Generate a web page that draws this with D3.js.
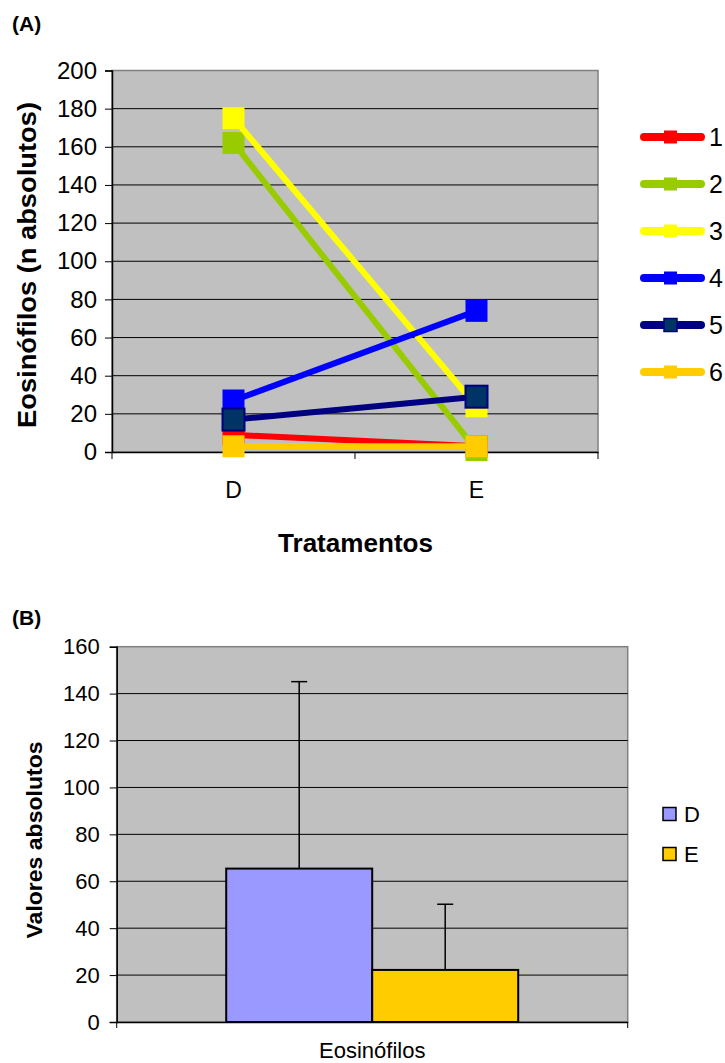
<!DOCTYPE html>
<html>
<head>
<meta charset="utf-8">
<script src="https://cdn.jsdelivr.net/npm/d3@7"></script>
<style>
  body { margin: 0; background: #fff; }
  text { font-family: "Liberation Sans", Arial, sans-serif; fill: #000; }
</style>
</head>
<body>
<div id="chart"></div>
<script>
// panel A data
var tratamentos = ["D", "E"]
var series = ["1", "2", "3", "4", "5", "6"]
var valores = [
  [9, 3],
  [162, 1],
  [175, 24],
  [27, 74],
  [17, 29],
  [3, 3]
]
var lineColors = ["#FF0000", "#99CC00", "#FFFF00", "#0000FF", "#000080", "#FFCC00"]
var markColors = ["#FF0000", "#99CC00", "#FFFF00", "#0000FF", "#003366", "#FFCC00"]
var yTicksA = [0, 20, 40, 60, 80, 100, 120, 140, 160, 180, 200]

// panel B data
var categoriaB = ["Eosinófilos"]
var gruposB = ["D", "E"]
var mediasB = [65.4, 22.2]
var errosB = [79.7, 28.0]
var barColors = ["#9999FF", "#FFCC00"]
var yTicksB = [0, 20, 40, 60, 80, 100, 120, 140, 160]

var width = 725
var height = 1063

var svg = d3.select('#chart').append('svg')
  .attr('width', width).attr('height', height)

// ---------- panel A ----------
var pA = {left: 112, right: 598, top: 70.5, bottom: 452}

var xA = d3.scaleBand().domain(tratamentos).range([pA.left, pA.right])
var yA = d3.scaleLinear().domain([0, 200]).range([pA.bottom, pA.top])

var gA = svg.append('g')

gA.append('rect')
  .attr('x', pA.left).attr('y', pA.top)
  .attr('width', pA.right - pA.left).attr('height', pA.bottom - pA.top)
  .attr('fill', '#C0C0C0').attr('stroke', '#808080').attr('stroke-width', 1.5)

gA.append('g')
  .selectAll('line')
  .data(yTicksA.slice(1, -1))
  .enter().append('line')
  .attr('x1', pA.left).attr('x2', pA.right)
  .attr('y1', function(d) { return yA(d) }).attr('y2', function(d) { return yA(d) })
  .attr('stroke', '#000').attr('stroke-width', 1)

var axisLeftA = gA.append('g')
  .attr('transform', 'translate(' + pA.left + ',0)')
  .call(d3.axisLeft(yA).tickValues(yTicksA).tickSize(7).tickPadding(8))
axisLeftA.selectAll('text').style('font-size', '24px')

var axisBottomA = gA.append('g')
  .attr('transform', 'translate(0,' + pA.bottom + ')')
  .call(d3.axisBottom(xA).tickSize(0).tickPadding(30))
axisBottomA.selectAll('text').style('font-size', '23px')
// boundary ticks
axisBottomA.selectAll('.bound')
  .data([pA.left, (pA.left + pA.right) / 2, pA.right])
  .enter().append('line')
  .attr('x1', function(d) { return d }).attr('x2', function(d) { return d })
  .attr('y1', 0).attr('y2', 7).attr('stroke', '#000')
gA.selectAll('.domain').attr('stroke', '#000').attr('stroke-width', 1.5)

var line = d3.line()
  .x(function(d, i) { return xA(tratamentos[i]) + xA.bandwidth() / 2 })
  .y(function(d) { return yA(d) })

series.forEach(function(s, k) {
  var g = gA.append('g')
  g.append('path')
    .datum(valores[k])
    .attr('d', line)
    .attr('fill', 'none')
    .attr('stroke', lineColors[k])
    .attr('stroke-width', 6)
  g.selectAll('rect')
    .data(valores[k])
    .enter().append('rect')
    .attr('x', function(d, i) { return xA(tratamentos[i]) + xA.bandwidth() / 2 - 11 })
    .attr('y', function(d) { return yA(d) - 11 })
    .attr('width', 22).attr('height', 22)
    .attr('fill', markColors[k])
    .attr('stroke', k === 4 ? '#000080' : 'none')
    .attr('stroke-width', 2)
})

// legend A
var legA = gA.append('g')
series.forEach(function(s, k) {
  var cy = 137 + k * 47
  legA.append('line')
    .attr('x1', 644).attr('x2', 701).attr('y1', cy).attr('y2', cy)
    .attr('stroke', lineColors[k]).attr('stroke-width', 8).attr('stroke-linecap', 'round')
  legA.append('rect')
    .attr('x', 664).attr('y', cy - 6.5).attr('width', 13).attr('height', 13)
    .attr('fill', markColors[k])
    .attr('stroke', k === 4 ? '#000080' : 'none').attr('stroke-width', 1.5)
  legA.append('text')
    .attr('x', 709).attr('y', cy + 9)
    .style('font-size', '25px')
    .text(s)
})

gA.append('text')
  .attr('x', 12).attr('y', 31)
  .style('font-size', '21px').style('font-weight', 'bold')
  .text('(A)')

gA.append('text')
  .attr('transform', 'translate(36,265) rotate(-90)')
  .attr('text-anchor', 'middle')
  .style('font-size', '26px').style('font-weight', 'bold')
  .attr('textLength', 326).attr('lengthAdjust', 'spacingAndGlyphs')
  .text('Eosinófilos (n absolutos)')

gA.append('text')
  .attr('x', 355.5).attr('y', 552)
  .attr('text-anchor', 'middle')
  .style('font-size', '26px').style('font-weight', 'bold')
  .attr('textLength', 155).attr('lengthAdjust', 'spacingAndGlyphs')
  .text('Tratamentos')

// ---------- panel B ----------
var pB = {left: 116.7, right: 627.7, top: 646.7, bottom: 1022}

var x0B = d3.scaleBand().domain(categoriaB).range([pB.left, pB.right]).paddingOuter(0.375)
var x1B = d3.scaleBand().domain(gruposB).range([0, x0B.bandwidth()])
var yB = d3.scaleLinear().domain([0, 160]).range([pB.bottom, pB.top])

var gB = svg.append('g')

gB.append('rect')
  .attr('x', pB.left).attr('y', pB.top)
  .attr('width', pB.right - pB.left).attr('height', pB.bottom - pB.top)
  .attr('fill', '#C0C0C0').attr('stroke', '#808080').attr('stroke-width', 1.5)

gB.append('g')
  .selectAll('line')
  .data(yTicksB.slice(1, -1))
  .enter().append('line')
  .attr('x1', pB.left).attr('x2', pB.right)
  .attr('y1', function(d) { return yB(d) }).attr('y2', function(d) { return yB(d) })
  .attr('stroke', '#000').attr('stroke-width', 1)

var barX = function(i) { return x0B(categoriaB[0]) + x1B(gruposB[i]) }

gB.selectAll('.bar')
  .data(mediasB)
  .enter().append('rect')
  .attr('x', function(d, i) { return barX(i) })
  .attr('y', function(d) { return yB(d) })
  .attr('width', x1B.bandwidth())
  .attr('height', function(d) { return yB(0) - yB(d) })
  .attr('fill', function(d, i) { return barColors[i] })
  .attr('stroke', '#000').attr('stroke-width', 2)

var errG = gB.selectAll('.err')
  .data(mediasB)
  .enter().append('g')
errG.append('line')
  .attr('x1', function(d, i) { return barX(i) + x1B.bandwidth() / 2 })
  .attr('x2', function(d, i) { return barX(i) + x1B.bandwidth() / 2 })
  .attr('y1', function(d) { return yB(d) })
  .attr('y2', function(d, i) { return yB(d + errosB[i]) })
  .attr('stroke', '#000').attr('stroke-width', 1.5)
errG.append('line')
  .attr('x1', function(d, i) { return barX(i) + x1B.bandwidth() / 2 - 8 })
  .attr('x2', function(d, i) { return barX(i) + x1B.bandwidth() / 2 + 8 })
  .attr('y1', function(d, i) { return yB(d + errosB[i]) })
  .attr('y2', function(d, i) { return yB(d + errosB[i]) })
  .attr('stroke', '#000').attr('stroke-width', 1.5)

var axisLeftB = gB.append('g')
  .attr('transform', 'translate(' + pB.left + ',0)')
  .call(d3.axisLeft(yB).tickValues(yTicksB).tickSize(7).tickPadding(10))
axisLeftB.selectAll('text').style('font-size', '22px')

var axisBottomB = gB.append('g')
  .attr('transform', 'translate(0,' + pB.bottom + ')')
  .call(d3.axisBottom(x0B).tickSize(0).tickPadding(20))
axisBottomB.selectAll('text').style('font-size', '22px')
axisBottomB.selectAll('.bound')
  .data([pB.left, pB.right])
  .enter().append('line')
  .attr('x1', function(d) { return d }).attr('x2', function(d) { return d })
  .attr('y1', 0).attr('y2', 6).attr('stroke', '#000')
gB.selectAll('.domain').attr('stroke', '#000').attr('stroke-width', 1.5)

// legend B
gruposB.forEach(function(s, k) {
  var cy = 814 + k * 40
  gB.append('rect')
    .attr('x', 663).attr('y', cy - 6.5).attr('width', 13).attr('height', 13)
    .attr('fill', barColors[k]).attr('stroke', '#000').attr('stroke-width', 1.5)
  gB.append('text')
    .attr('x', 684).attr('y', cy + 8)
    .style('font-size', '22px')
    .text(s)
})

gB.append('text')
  .attr('x', 12).attr('y', 625)
  .style('font-size', '21px').style('font-weight', 'bold')
  .text('(B)')

gB.append('text')
  .attr('transform', 'translate(42,840) rotate(-90)')
  .attr('text-anchor', 'middle')
  .style('font-size', '22px').style('font-weight', 'bold')
  .attr('textLength', 197).attr('lengthAdjust', 'spacingAndGlyphs')
  .text('Valores absolutos')
</script>
</body>
</html>
